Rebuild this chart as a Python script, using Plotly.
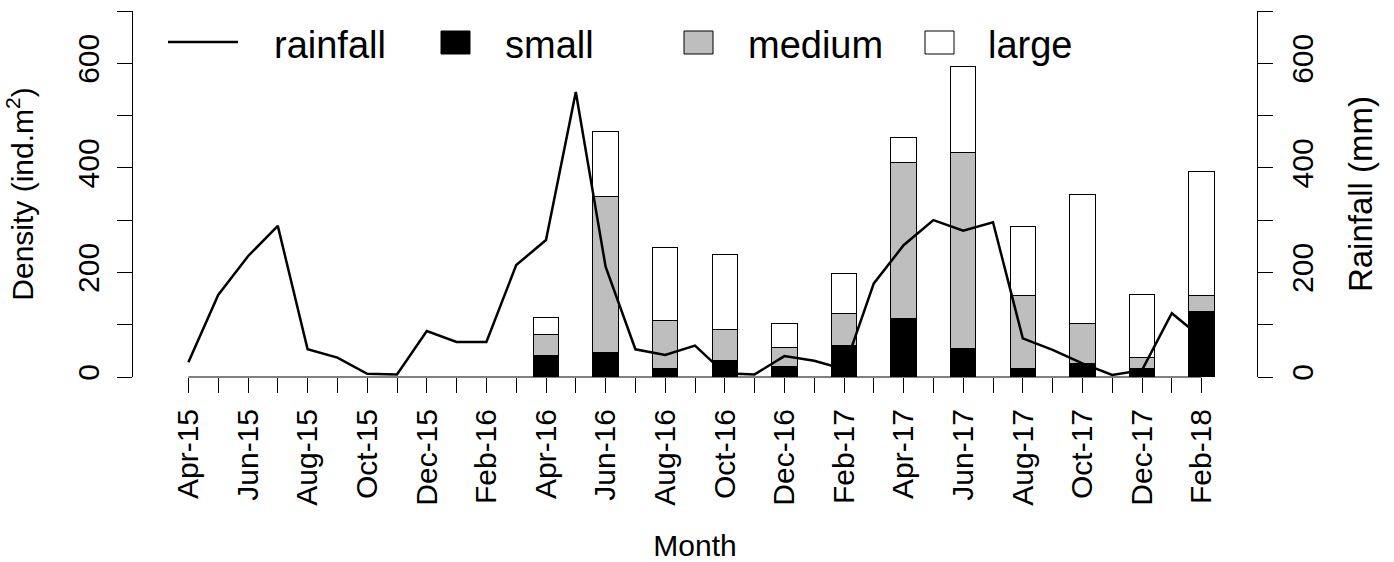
import plotly.graph_objects as go

# Monthly sampling calendar
months = ["Apr-15", "May-15", "Jun-15", "Jul-15", "Aug-15", "Sep-15", "Oct-15", "Nov-15",
          "Dec-15", "Jan-16", "Feb-16", "Mar-16", "Apr-16", "May-16", "Jun-16", "Jul-16",
          "Aug-16", "Sep-16", "Oct-16", "Nov-16", "Dec-16", "Jan-17", "Feb-17", "Mar-17",
          "Apr-17", "May-17", "Jun-17", "Jul-17", "Aug-17", "Sep-17", "Oct-17", "Nov-17",
          "Dec-17", "Jan-18", "Feb-18"]

# Monthly rainfall (mm)
rainfall = [28, 157, 231, 289, 53, 37, 6, 5, 88, 67, 67, 214, 262, 545, 211, 53,
            42, 60, 7, 5, 40, 31, 15, 179, 252, 300, 280, 296, 74, 52, 26, 4,
            13, 122, 75]

# Bimonthly density samples by size class (ind.m^2)
sample_months = ["Apr-16", "Jun-16", "Aug-16", "Oct-16", "Dec-16", "Feb-17",
                 "Apr-17", "Jun-17", "Aug-17", "Oct-17", "Dec-17", "Feb-18"]
small = [41, 47, 17, 32, 20, 60, 112, 54, 17, 26, 17, 125]
medium = [40, 299, 91, 58, 36, 61, 299, 376, 138, 77, 21, 30]
large = [33, 123, 139, 145, 47, 77, 47, 163, 132, 247, 119, 238]

# Every other month is labelled on the x axis
tick_text = [m if i % 2 == 0 else "" for i, m in enumerate(months)]
y_ticks = list(range(0, 701, 100))
y_text = [str(v) if v % 200 == 0 and v < 700 else "" for v in y_ticks]

FONT = "Liberation Sans, Arial, sans-serif"
W, H = 1394, 562
ML, MR, MT, MB = 133, 137, 11, 185
PW, PH = W - ML - MR, H - MT - MB

fig = go.Figure()

for name, vals, col in [("small", small, "black"),
                        ("medium", medium, "#BEBEBE"),
                        ("large", large, "white")]:
    fig.add_trace(go.Bar(x=sample_months, y=vals, name=name, width=0.85,
                         marker=dict(color=col, line=dict(color="black", width=1)),
                         showlegend=False))

fig.add_trace(go.Scatter(x=months, y=rainfall, name="rainfall", mode="lines",
                         line=dict(color="black", width=2.5), yaxis="y2",
                         showlegend=False))

axis_common = dict(range=[0, 700], tickvals=y_ticks, ticktext=y_text,
                   ticks="outside", ticklen=15, tickcolor="black", tickwidth=1,
                   showline=True, linecolor="black", linewidth=1,
                   showgrid=False, zeroline=False, tickangle=-90, automargin=False,
                   tickfont=dict(size=30, color="black", family=FONT))

fig.update_layout(
    width=W, height=H,
    margin=dict(l=ML, r=MR, t=MT, b=MB),
    paper_bgcolor="white", plot_bgcolor="white",
    barmode="stack",
    font=dict(family=FONT, color="black"),
    xaxis=dict(type="category", categoryorder="array", categoryarray=months,
               range=[-1.859, len(months) - 1 + 1.859],
               tickvals=months, ticktext=tick_text, tickangle=-90,
               ticks="outside", ticklen=15, tickcolor="black", tickwidth=1,
               showline=False, showgrid=False, zeroline=False,
               ticklabelstandoff=4, automargin=False,
               tickfont=dict(size=30, color="black", family=FONT),
               title=dict(text="Month", font=dict(size=30), standoff=31)),
    yaxis=dict(**axis_common, ticklabelstandoff=6,
               title=dict(text="Density (ind.m<sup>2</sup>)", font=dict(size=30), standoff=29)),
    yaxis2=dict(**axis_common, overlaying="y", side="right", ticklabelstandoff=4,
                title=dict(text="Rainfall (mm)", font=dict(size=33), standoff=30)),
)

# x axis baseline spanning first to last month
fig.add_shape(type="line", xref="x", yref="paper", x0=months[0], x1=months[-1],
              y0=0, y1=0, line=dict(color="black", width=1))


def px(xp):
    return (xp - ML) / PW


def py(yp):
    return (H - MB - yp) / PH


# Legend row across the top of the panel
legend_y = 42
shapes = [dict(type="line", xref="paper", yref="paper", x0=px(168), x1=px(238),
               y0=py(legend_y), y1=py(legend_y), line=dict(color="black", width=2.5))]
key_boxes = [(441, "black"), (684, "#BEBEBE"), (925, "white")]
for x0, col in key_boxes:
    shapes.append(dict(type="rect", xref="paper", yref="paper",
                       x0=px(x0), x1=px(x0 + 29), y0=py(54), y1=py(31),
                       fillcolor=col, line=dict(color="black", width=1)))
for s in shapes:
    fig.add_shape(**s)

legend_labels = [("rainfall", 272), ("small", 503), ("medium", 746), ("large", 986)]
for text, x0 in legend_labels:
    fig.add_annotation(text=text, xref="paper", yref="paper", x=px(x0), y=py(45),
                       xanchor="left", yanchor="middle", showarrow=False,
                       font=dict(size=38, color="black", family=FONT))

fig.write_html("out.html")
